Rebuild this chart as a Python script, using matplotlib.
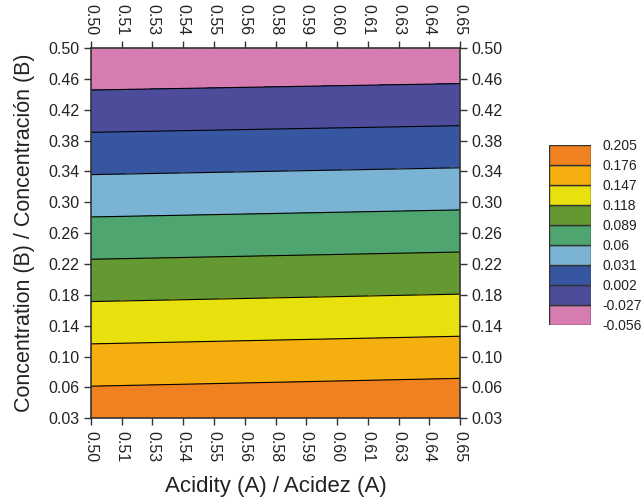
import numpy as np
import matplotlib
matplotlib.use("Agg")
import matplotlib.pyplot as plt

plt.rcParams["font.family"] = ["Liberation Sans Narrow", "Liberation Sans", "DejaVu Sans"]

# response surface sampled at the corners of the design region
acidity = [0.50, 0.65]
concentration = [0.03, 0.50]
response = [[0.198, 0.2035],     # concentration = 0.03
            [-0.0558, -0.0515]]  # concentration = 0.50

levels = [-0.056, -0.027, 0.002, 0.031, 0.06, 0.089, 0.118, 0.147, 0.176, 0.205]
level_labels = ["-0.056", "-0.027", "0.002", "0.031", "0.06", "0.089",
                "0.118", "0.147", "0.176", "0.205"]
colors = ["#D77CB0", "#4C4C9B", "#3756A1", "#7AB3D3", "#4FA56F",
          "#649932", "#E8E10E", "#F5B00F", "#F08121"]

x_ticklabels = ["0.50", "0.51", "0.53", "0.54", "0.55", "0.56", "0.58",
                "0.59", "0.60", "0.61", "0.63", "0.64", "0.65"]
y_ticklabels = ["0.03", "0.06", "0.10", "0.14", "0.18", "0.22", "0.26",
                "0.30", "0.34", "0.38", "0.42", "0.46", "0.50"]

TXT = "#222222"

fig = plt.figure(figsize=(6.44, 5.0), dpi=100)
ax = fig.add_axes([0.1413, 0.1634, 0.5730, 0.7406])

X, Y = np.meshgrid(acidity, concentration)
Z = np.array(response)
ax.contourf(X, Y, Z, levels=levels, colors=colors)
ax.contour(X, Y, Z, levels=levels[1:-1], colors="black", linewidths=0.8,
           linestyles="solid")

ax.set_xlim(acidity[0], acidity[-1])
ax.set_ylim(concentration[0], concentration[-1])
ax.set_xticks(np.linspace(acidity[0], acidity[-1], len(x_ticklabels)))
ax.set_xticklabels(x_ticklabels)
ax.set_yticks(np.linspace(concentration[0], concentration[-1], len(y_ticklabels)))
ax.set_yticklabels(y_ticklabels)
ax.tick_params(axis="both", which="both", direction="out", length=5, width=1,
               color="#333333", labelsize=11.5, labelcolor=TXT,
               top=True, labeltop=True, right=True, labelright=True)
ax.tick_params(axis="x", pad=4)
for lab in ax.get_xticklabels(which="both"):
    lab.set_rotation(-90)
for sp in ax.spines.values():
    sp.set_color("#333333")
    sp.set_linewidth(1.2)

ax.set_xlabel("Acidity (A) / Acidez (A)", fontsize=16, color=TXT, labelpad=10)
ax.set_ylabel("Concentration (B) / Concentración (B)", fontsize=15.5, color=TXT,
              labelpad=9)

# legend: one box per filled band
lax = fig.add_axes([0.8525, 0.35, 0.0652, 0.36])
lax.bar(0, np.diff(levels), bottom=levels[:-1], width=1.0, color=colors,
        edgecolor="#333333", linewidth=1.0, align="center")
lax.set_xlim(-0.5, 0.5)
lax.set_ylim(levels[0], levels[-1])
lax.set_xticks([])
lax.set_yticks(levels)
lax.set_yticklabels(level_labels)
lax.yaxis.tick_right()
lax.tick_params(axis="y", length=0, pad=8, labelsize=10, labelcolor=TXT)
for sp in lax.spines.values():
    sp.set_visible(False)

fig.savefig("out.png", dpi=100)
